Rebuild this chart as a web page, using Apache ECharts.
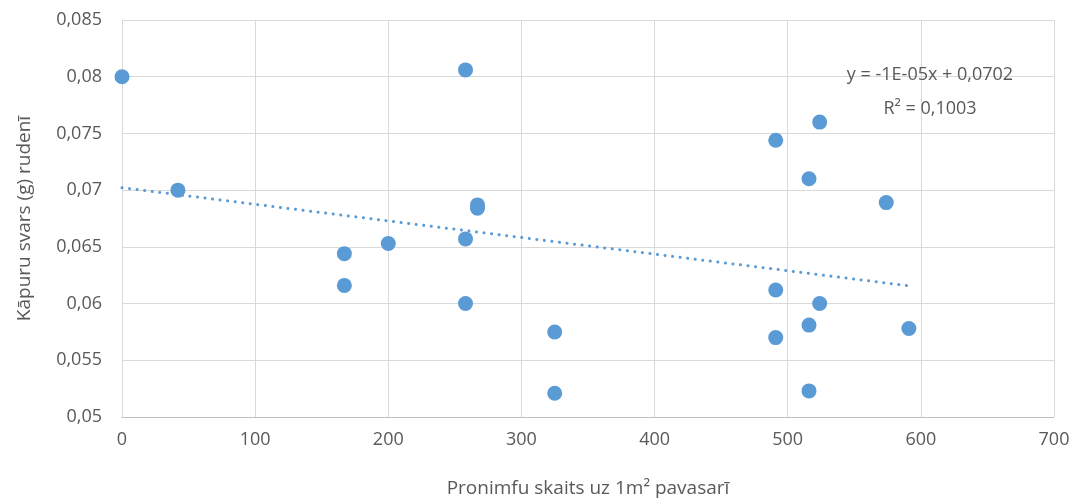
<!DOCTYPE html>
<html>
<head>
<meta charset="utf-8">
<script src="https://cdn.jsdelivr.net/npm/echarts@6/dist/echarts.min.js"></script>
<style>
  html, body { margin: 0; padding: 0; background: #fff; }
  #chart { width: 1075px; height: 500px; }
</style>
</head>
<body>
<div id="chart"></div>
<script>
// pronimfu skaits (x) un kāpuru svars (y)
const nymphCount = [0, 42, 258, 167, 167, 200, 258, 267, 267, 258, 325, 325,
  524, 491, 516, 574, 491, 524, 516, 591, 491, 516]
const larvaWeight = [0.0800, 0.0700, 0.0806, 0.0644, 0.0616, 0.0653, 0.0657, 0.0687, 0.0684, 0.0600, 0.0575, 0.0521,
  0.0760, 0.0744, 0.0710, 0.0689, 0.0612, 0.0600, 0.0581, 0.0578, 0.0570, 0.0523]

const equationText = 'y = -1E-05x + 0,0702'
const r2Text = 'R² = 0,1003'

const points = nymphCount.map((x, i) => [x, larvaWeight[i]])

// lineārā tendence (mazāko kvadrātu metode)
const n = points.length
const mx = nymphCount.reduce((a, b) => a + b, 0) / n
const my = larvaWeight.reduce((a, b) => a + b, 0) / n
let sxy = 0, sxx = 0
points.forEach(([x, y]) => { sxy += (x - mx) * (y - my); sxx += (x - mx) * (x - mx) })
const slope = sxy / sxx
const intercept = my - slope * mx
const xMinData = Math.min(...nymphCount)
const xMaxData = Math.max(...nymphCount)
const trend = [[xMinData, intercept + slope * xMinData], [xMaxData, intercept + slope * xMaxData]]

const font = 'Open Sans'
const textColor = '#595959'
const blue = '#5B9BD5'

const chart = echarts.init(document.getElementById('chart'))
chart.setOption({
  animation: false,
  textStyle: { fontFamily: font },
  grid: { left: 122, right: 21, top: 20, bottom: 83, outerBoundsMode: 'none', containLabel: false },
  xAxis: {
    type: 'value',
    min: 0,
    max: 700,
    interval: 100,
    name: 'Pronimfu skaits uz 1m² pavasarī',
    nameLocation: 'middle',
    nameGap: 62,
    nameTextStyle: { fontSize: 19, color: textColor, fontFamily: font },
    axisLine: { show: true, lineStyle: { color: '#BFBFBF', width: 1 } },
    axisTick: { show: false },
    axisLabel: { fontSize: 18, color: textColor, margin: 14, fontFamily: font },
    splitLine: { show: true, lineStyle: { color: '#D9D9D9', width: 1 } }
  },
  yAxis: {
    type: 'value',
    min: 0.05,
    max: 0.085,
    interval: 0.005,
    name: 'Kāpuru svars (g) rudenī',
    nameLocation: 'middle',
    nameGap: 88,
    nameTextStyle: { fontSize: 19, color: textColor, fontFamily: font },
    axisLine: { show: true, lineStyle: { color: '#D9D9D9', width: 1 } },
    axisTick: { show: false },
    axisLabel: {
      fontSize: 18,
      color: textColor,
      margin: 20,
      fontFamily: font,
      formatter: v => String(Math.round(v * 1000) / 1000).replace('.', ',')
    },
    splitLine: { show: true, lineStyle: { color: '#D9D9D9', width: 1 } }
  },
  series: [
    {
      type: 'line',
      data: trend,
      symbol: 'none',
      lineStyle: { color: blue, width: 3, type: [0.1, 7.5], cap: 'round' },
      z: 1
    },
    {
      type: 'scatter',
      data: points,
      symbolSize: 15,
      itemStyle: { color: blue, opacity: 1 },
      z: 2
    }
  ],
  graphic: [
    {
      type: 'text',
      x: 930,
      y: 75,
      z: 100,
      style: { text: equationText, fontSize: 18, fill: textColor, fontFamily: font, align: 'center', verticalAlign: 'middle' }
    },
    {
      type: 'text',
      x: 930,
      y: 109,
      z: 100,
      style: { text: r2Text, fontSize: 18, fill: textColor, fontFamily: font, align: 'center', verticalAlign: 'middle' }
    }
  ]
})
</script>
</body>
</html>
